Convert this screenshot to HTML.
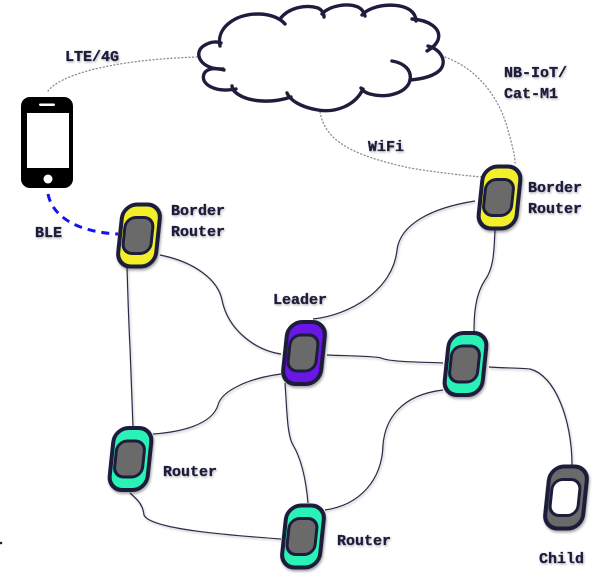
<!DOCTYPE html>
<html><head><meta charset="utf-8"><style>
html,body{margin:0;padding:0;background:#fff;}
svg{display:block;}
text{font-family:"Liberation Mono",monospace;font-weight:bold;font-size:15px;fill:#1e1d3d;stroke:#1e1d3d;stroke-width:0.35;}
</style></head><body>
<svg width="606" height="576" viewBox="0 0 606 576" xmlns="http://www.w3.org/2000/svg">
<defs>
<filter id="sh" x="-30%" y="-30%" width="160%" height="160%"><feDropShadow dx="1" dy="2" stdDeviation="1.4" flood-color="#000" flood-opacity="0.35"/></filter>
<filter id="tsh" x="-10%" y="-30%" width="120%" height="160%"><feDropShadow dx="1" dy="1.5" stdDeviation="1" flood-color="#000" flood-opacity="0.25"/></filter>
</defs>
<rect width="606" height="576" fill="#fff"/>

<!-- dotted links -->
<g fill="none" stroke="#8a8a96" stroke-width="1.3" stroke-dasharray="1 2.6" stroke-linecap="round">
<path d="M48,91 C60,75 110,60 197,57"/>
<path d="M320,112 C325,140 350,155 410,168 C440,173 470,176 482,177"/>
<path d="M445,57 C480,70 500,100 508,130 C512,145 515,155 515,163"/>
</g>

<!-- cloud -->
<g fill="none" stroke="#1e1d3d" stroke-width="3.4" stroke-linecap="round">
<path d="M223,69 C200,70 192,52 205,45 C210,42 216,41 221,43"/>
<path d="M220,46 C216,28 235,14 258,14 C270,14 280,18 285,24"/>
<path d="M280,19 C288,8 305,4 318,8 C322,10 324,13 324,17"/>
<path d="M322,14 C330,5 348,3 358,7 C362,9 364,12 365,16"/>
<path d="M362,15 C372,4 398,2 410,10 C414,13 416,17 416,21"/>
<path d="M412,19 C428,20 442,28 438,40 C436,45 432,48 427,51"/>
<path d="M428,46 C442,50 447,62 440,70 C434,76 422,79 410,80"/>
<path d="M392,61 C404,63 412,70 410,80 C408,92 388,99 370,94 C366,93 363,91 361,88"/>
<path d="M363,89 C355,106 335,113 318,110 C300,107 290,100 287,93"/>
<path d="M291,97 C270,104 245,102 234,91 C233,89 232,88 232,86"/>
<path d="M236,89 C215,93 200,84 204,74 C206,69 214,67 224,70"/>
</g>

<!-- BLE -->
<path d="M48,194 C52,215 75,232 118,234" fill="none" stroke="#1414f0" stroke-width="3" stroke-dasharray="8 6"/>

<!-- links -->
<g fill="none" stroke="#2a2948" stroke-width="1.2" filter="url(#tsh)">
<path d="M127,267 C128,300 129,330 130,347 C131,380 132,405 133,427"/>
<path d="M160,255 C195,262 218,280 222,300 C228,330 255,350 281,354"/>
<path d="M281,374 C250,378 222,390 218,405 C212,425 180,432 153,434"/>
<path d="M130,493 C138,500 143,505 144,515 C150,530 240,536 281,539"/>
<path d="M285,383 C287,410 287,435 293,445 C302,460 306,480 308,503"/>
<path d="M475,201 C430,208 400,225 397,250 C393,290 350,315 313,319"/>
<path d="M495,230 C494,250 494,268 485,280 C475,295 474,315 474,332"/>
<path d="M327,355 C350,356 375,356 381,358 C390,362 420,362 443,363"/>
<path d="M443,390 C400,395 385,420 383,445 C382,480 360,505 325,510"/>
<path d="M489,367 C505,368 520,368 530,369 C555,375 572,420 572,465"/>
</g>

<!-- phone -->
<rect x="21" y="97" width="52" height="91" rx="9" fill="#000"/>
<rect x="27" y="113" width="42" height="55" fill="#fff"/>
<rect x="39" y="103.5" width="16" height="2.5" rx="1.2" fill="#fff"/>
<circle cx="48" cy="179" r="4.5" fill="#fff"/>

<!-- nodes -->
<g stroke="#1b1a3b" filter="url(#sh)">
<g transform="translate(139,235.5) skewX(-6)"><rect x="-19" y="-31" width="38" height="62" rx="14" fill="#f2ee2c" stroke-width="4"/><rect x="-15" y="-18" width="28" height="36" rx="10" fill="#6b6b6b" stroke-width="3"/></g>
<g transform="translate(499.5,197.5) skewX(-6)"><rect x="-19" y="-31" width="38" height="62" rx="14" fill="#f2ee2c" stroke-width="4"/><rect x="-15" y="-18" width="28" height="36" rx="10" fill="#6b6b6b" stroke-width="3"/></g>
<g transform="translate(304,353) skewX(-6)"><rect x="-19" y="-31" width="38" height="62" rx="14" fill="#6a14e6" stroke-width="4"/><rect x="-15" y="-18" width="28" height="36" rx="10" fill="#6b6b6b" stroke-width="3"/></g>
<g transform="translate(465.5,364) skewX(-6)"><rect x="-19" y="-31" width="38" height="62" rx="14" fill="#2cf2b6" stroke-width="4"/><rect x="-15" y="-18" width="28" height="36" rx="10" fill="#6b6b6b" stroke-width="3"/></g>
<g transform="translate(130.5,459) skewX(-6)"><rect x="-19" y="-31" width="38" height="62" rx="14" fill="#2cf2b6" stroke-width="4"/><rect x="-15" y="-18" width="28" height="36" rx="10" fill="#6b6b6b" stroke-width="3"/></g>
<g transform="translate(303,536.5) skewX(-6)"><rect x="-19" y="-31" width="38" height="62" rx="14" fill="#2cf2b6" stroke-width="4"/><rect x="-15" y="-18" width="28" height="36" rx="10" fill="#6b6b6b" stroke-width="3"/></g>
<g transform="translate(566,497.5) skewX(-6)"><rect x="-19" y="-31" width="38" height="62" rx="14" fill="#6b6b6b" stroke-width="4"/><rect x="-15" y="-18" width="28" height="36" rx="10" fill="#fff" stroke-width="3"/></g>
</g>

<circle cx="1" cy="543" r="1.3" fill="#1e1d3d"/>

<!-- labels -->
<g filter="url(#tsh)">
<text x="65" y="61">LTE/4G</text>
<text x="35" y="237">BLE</text>
<text x="171" y="215">Border</text>
<text x="171" y="236">Router</text>
<text x="528" y="192">Border</text>
<text x="528" y="213">Router</text>
<text x="504" y="77">NB-IoT/</text>
<text x="504" y="98">Cat-M1</text>
<text x="368" y="151">WiFi</text>
<text x="273" y="304">Leader</text>
<text x="163" y="476">Router</text>
<text x="337" y="545">Router</text>
<text x="539" y="563">Child</text>
</g>
</svg>
</body></html>
